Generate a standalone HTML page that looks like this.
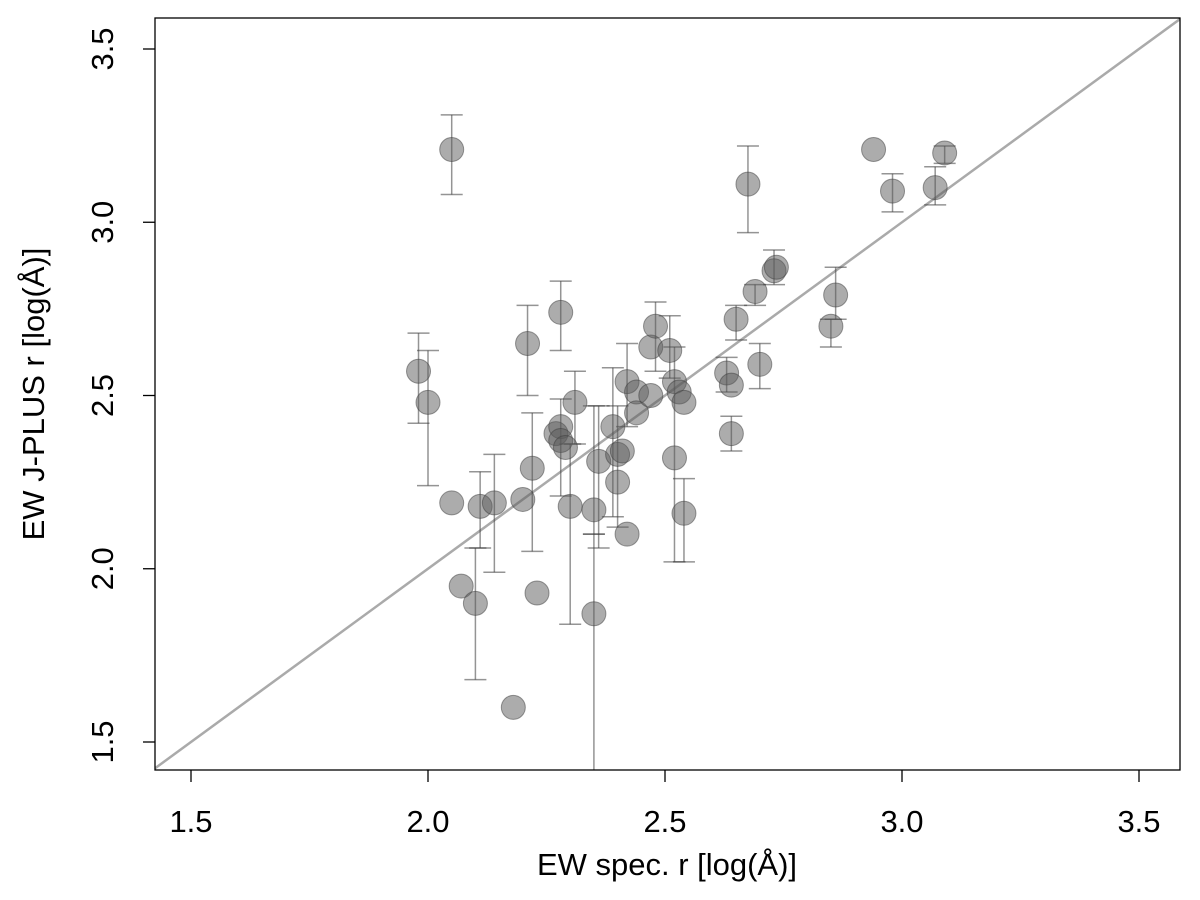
<!DOCTYPE html>
<html><head><meta charset="utf-8"><style>
html,body{margin:0;padding:0;background:#fff;}
svg{display:block;font-family:"Liberation Sans",sans-serif;}
</style></head><body>
<svg id="chart" width="1200" height="900" viewBox="0 0 1200 900">
<rect x="0" y="0" width="1200" height="900" fill="#fff"/>
<g id="marks"></g>
<rect x="155" y="18" width="1025" height="752" fill="none" stroke="#000" stroke-width="1.3"/>
<g id="axes"></g>
<text x="667" y="875" font-size="31" text-anchor="middle">EW spec. r [log(Å)]</text>
<text x="0" y="0" font-size="31" text-anchor="middle" transform="translate(44,394) rotate(-90)">EW J-PLUS r [log(Å)]</text>
</svg>
<script>
const xTicks = [1.5, 2.0, 2.5, 3.0, 3.5];
const yTicks = [1.5, 2.0, 2.5, 3.0, 3.5];
const xVals = [2.05,1.98,2.00,2.05,2.07,2.10,2.11,2.14,2.20,2.22,2.21,2.28,2.23,2.18,2.27,2.28,2.28,2.29,2.31,2.30,2.35,2.35,2.36,2.39,2.40,2.40,2.41,2.42,2.42,2.44,2.44,2.47,2.48,2.47,2.51,2.52,2.53,2.54,2.52,2.54,2.63,2.64,2.64,2.65,2.69,2.70,2.73,2.735,2.675,2.85,2.86,2.94,2.98,3.07,3.09];
const yVals = [3.21,2.57,2.48,2.19,1.95,1.90,2.18,2.19,2.20,2.29,2.65,2.74,1.93,1.60,2.39,2.41,2.37,2.35,2.48,2.18,2.17,1.87,2.31,2.41,2.25,2.33,2.34,2.10,2.54,2.51,2.45,2.64,2.70,2.50,2.63,2.54,2.51,2.48,2.32,2.16,2.565,2.53,2.39,2.72,2.80,2.59,2.86,2.87,3.11,2.70,2.79,3.21,3.09,3.10,3.20];
const errHi = [3.31,2.68,2.63,null,null,2.06,2.28,2.33,null,2.45,2.76,2.83,null,null,null,2.49,null,null,2.57,2.36,2.47,2.10,2.47,2.58,2.47,null,null,null,2.65,null,null,null,2.77,null,2.73,2.64,null,null,null,2.26,2.61,null,2.44,2.76,2.82,2.65,2.92,null,3.22,2.72,2.87,null,3.14,3.16,3.22];
const errLo = [3.08,2.42,2.24,null,null,1.68,2.06,1.99,null,2.05,2.50,2.63,null,null,null,2.21,null,null,2.36,1.84,2.10,1.40,2.06,2.15,2.12,null,null,null,2.41,null,null,null,2.57,null,2.55,2.02,null,null,null,2.02,2.51,null,2.34,2.66,2.76,2.52,2.82,null,2.97,2.64,2.72,null,3.03,3.05,3.17];

const X = v => 191 + (v - 1.5) * 474;
const Y = v => 742 - (v - 1.5) * 346.5;
const NS = "http://www.w3.org/2000/svg";
const marks = document.getElementById('marks');
const axes = document.getElementById('axes');
function mk(tag, attrs, parent){ const e=document.createElementNS(NS,tag); for(const k in attrs) e.setAttribute(k,attrs[k]); parent.appendChild(e); return e; }

const defs = mk('defs',{},marks);
const cp = mk('clipPath',{id:'pc'},defs);
mk('rect',{x:155,y:18,width:1025,height:752},cp);
const g = mk('g',{'clip-path':'url(#pc)'},marks);

const lo = 1.42, hi = 3.62;
const diag = mk('line',{x1:X(lo),y1:Y(lo),x2:X(hi),y2:Y(hi),stroke:'#aaa','stroke-width':2.5},g);



for (let i=0;i<xVals.length;i++){
  if (errHi[i]!==null){
    const eg = mk('g',{stroke:'rgba(60,60,60,0.55)','stroke-width':1.5},g);
    
    
    const cx = X(xVals[i]);
    mk('line',{x1:cx,x2:cx,y1:Y(errHi[i]),y2:Y(errLo[i])},eg);
    mk('line',{x1:cx-11,x2:cx+11,y1:Y(errHi[i]),y2:Y(errHi[i])},eg);
    mk('line',{x1:cx-11,x2:cx+11,y1:Y(errLo[i]),y2:Y(errLo[i])},eg);
  }
}
for (let i=0;i<xVals.length;i++){
  const c = mk('circle',{cx:X(xVals[i]),cy:Y(yVals[i]),r:12,fill:'rgba(90,90,90,0.5)',stroke:'rgba(60,60,60,0.5)','stroke-width':1},g);
  
  
}

xTicks.forEach(t=>{
  const l = mk('line',{x1:X(t),x2:X(t),y1:770,y2:782,stroke:'#000','stroke-width':1.3},axes);
  
  
  const tx = mk('text',{x:X(t),y:832,'font-size':31,'text-anchor':'middle'},axes);
  tx.textContent = t.toFixed(1);
  
  
});
yTicks.forEach(t=>{
  const l = mk('line',{x1:143,x2:155,y1:Y(t),y2:Y(t),stroke:'#000','stroke-width':1.3},axes);
  
  
  const tx = mk('text',{x:0,y:0,'font-size':31,'text-anchor':'middle',transform:`translate(113,${Y(t)}) rotate(-90)`},axes);
  tx.textContent = t.toFixed(1);
  
  
});
</script>
</body></html>
